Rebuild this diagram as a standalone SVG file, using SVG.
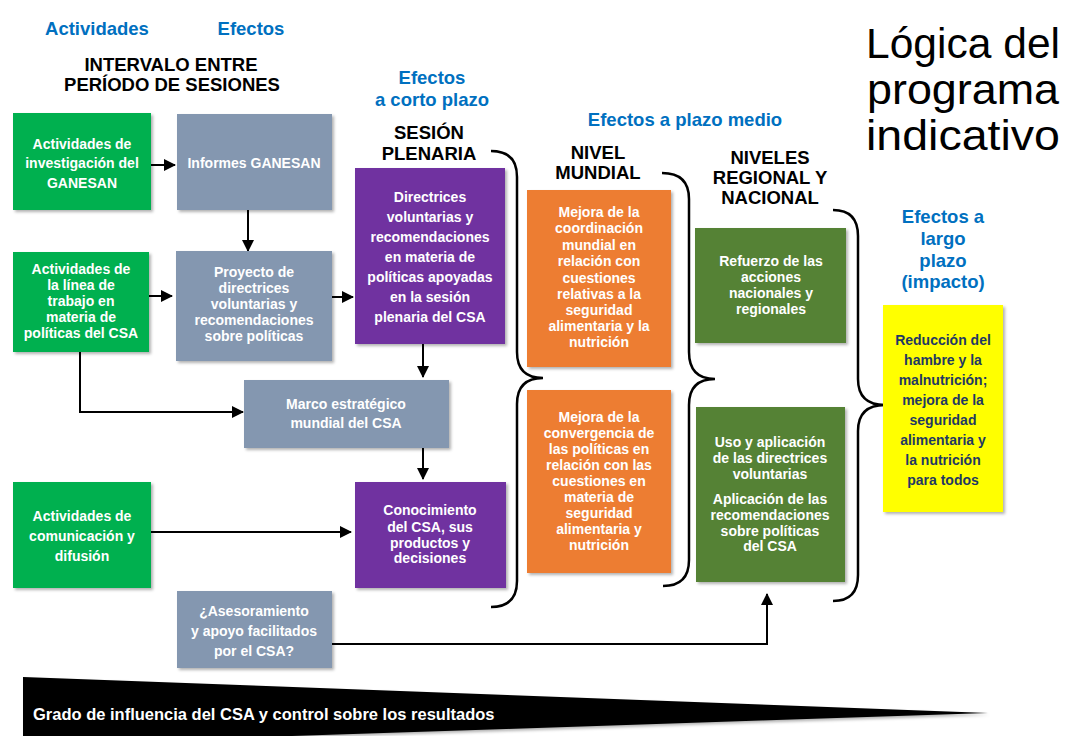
<svg xmlns="http://www.w3.org/2000/svg" width="1065" height="736" viewBox="0 0 1065 736">
  <defs>
    <filter id="shadow" x="-10%" y="-10%" width="130%" height="130%">
      <feDropShadow dx="2" dy="2" stdDeviation="1.5" flood-color="#000" flood-opacity="0.3"/>
    </filter>
    <marker id="arrow" markerUnits="userSpaceOnUse" markerWidth="12" markerHeight="12" viewBox="0 0 12 12" refX="11" refY="6" orient="auto">
      <path d="M0,0 L12,6 L0,12 Z" fill="#000"/>
    </marker>
    <style>
      .box { filter: url(#shadow); }
      .t { font-family: "Liberation Sans", Arial, sans-serif; font-weight: bold; font-size: 14px; fill: #fff; text-anchor: middle; }
      .dark { fill: #1F3864; }
      .hdr { font-family: "Liberation Sans", Arial, sans-serif; font-weight: bold; font-size: 18.5px; fill: #000; text-anchor: middle; }
      .blue { fill: #0070C0; }
      .title { font-family: "Liberation Sans", Arial, sans-serif; font-size: 43px; fill: #000; }
      .conn { fill: none; stroke: #000; stroke-width: 2; }
      .brace { fill: none; stroke: #000; stroke-width: 2.5; }
      .green { fill: #00B050; }
      .grey { fill: #8497B0; }
      .purple { fill: #7030A0; }
      .orange { fill: #ED7D31; }
      .dgreen { fill: #548235; }
      .yellow { fill: #FFFF00; }
    </style>
  </defs>

  <rect width="1065" height="736" fill="#fff"/>

  <!-- title -->
  <g id="title">
    <text class="title" x="866" y="58" textLength="194" lengthAdjust="spacingAndGlyphs">Lógica del</text>
    <text class="title" x="867" y="104" textLength="192" lengthAdjust="spacingAndGlyphs">programa</text>
    <text class="title" x="866" y="150" textLength="194" lengthAdjust="spacingAndGlyphs">indicativo</text>
  </g>

  <!-- column headings -->
  <g id="headings">
    <text class="hdr blue" x="97" y="35">Actividades</text>
    <text class="hdr blue" x="251" y="35">Efectos</text>
    <text class="hdr" x="171" y="71">INTERVALO ENTRE</text>
    <text class="hdr" x="172" y="91">PERÍODO DE SESIONES</text>
    <text class="hdr blue" x="432" y="84">Efectos</text>
    <text class="hdr blue" x="432" y="106">a corto plazo</text>
    <text class="hdr" x="429" y="139">SESIÓN</text>
    <text class="hdr" x="429" y="160">PLENARIA</text>
    <text class="hdr blue" x="685" y="126">Efectos a plazo medio</text>
    <text class="hdr" x="598" y="159">NIVEL</text>
    <text class="hdr" x="598" y="179">MUNDIAL</text>
    <text class="hdr" x="770" y="164">NIVELES</text>
    <text class="hdr" x="770" y="184">REGIONAL Y</text>
    <text class="hdr" x="770" y="204">NACIONAL</text>
    <text class="hdr blue" x="943" y="223">Efectos a</text>
    <text class="hdr blue" x="943" y="245">largo</text>
    <text class="hdr blue" x="943" y="267">plazo</text>
    <text class="hdr blue" x="943" y="288">(impacto)</text>
  </g>

  <!-- connectors -->
  <g id="connectors">
    <path class="conn" d="M151,165 H175" marker-end="url(#arrow)"/>
    <path class="conn" d="M248,210 V251" marker-end="url(#arrow)"/>
    <path class="conn" d="M149,296 H172" marker-end="url(#arrow)"/>
    <path class="conn" d="M332,297 H353" marker-end="url(#arrow)"/>
    <path class="conn" d="M423,344 V377" marker-end="url(#arrow)"/>
    <path class="conn" d="M80,352 V412 H243" marker-end="url(#arrow)"/>
    <path class="conn" d="M423,448 V479" marker-end="url(#arrow)"/>
    <path class="conn" d="M151,532 H351" marker-end="url(#arrow)"/>
    <path class="conn" d="M332,644 H767 V594" marker-end="url(#arrow)"/>
    <!-- grouping braces -->
    <path class="brace" d="M491,151 Q517,151 517,177 V352 Q517,378 543,378 Q517,378 517,404 V581 Q517,607 491,607"/>
    <path class="brace" d="M662,173 Q689,173 689,199 V352 Q689,379 715,379 Q689,379 689,405 V560 Q689,586 663,586"/>
    <path class="brace" d="M833,210 Q858,210 858,236 V379 Q858,405 885,405 Q858,405 858,431 V575 Q858,601 833,601"/>
  </g>

  <!-- activities -->
  <g id="act-ganesan">
    <rect class="box green" x="13" y="113" width="138" height="97"/>
    <text class="t"><tspan x="82" y="149">Actividades de</tspan><tspan x="82" y="168">investigación del</tspan><tspan x="82" y="188">GANESAN</tspan></text>
  </g>
  <g id="act-politicas">
    <rect class="box green" x="13" y="252" width="136" height="100"/>
    <text class="t"><tspan x="81" y="274">Actividades de</tspan><tspan x="81" y="290">la línea de</tspan><tspan x="81" y="306">trabajo en</tspan><tspan x="81" y="322">materia de</tspan><tspan x="81" y="338">políticas del CSA</tspan></text>
  </g>
  <g id="act-comunicacion">
    <rect class="box green" x="13" y="482" width="138" height="106"/>
    <text class="t"><tspan x="82" y="521">Actividades de</tspan><tspan x="82" y="541">comunicación y</tspan><tspan x="82" y="561">difusión</tspan></text>
  </g>

  <!-- intersessional outputs -->
  <g id="informes">
    <rect class="box grey" x="177" y="114" width="155" height="96"/>
    <text class="t" x="254" y="168">Informes GANESAN</text>
  </g>
  <g id="proyecto">
    <rect class="box grey" x="176" y="251" width="156" height="110"/>
    <text class="t"><tspan x="254" y="277">Proyecto de</tspan><tspan x="254" y="293">directrices</tspan><tspan x="254" y="309">voluntarias y</tspan><tspan x="254" y="325">recomendaciones</tspan><tspan x="254" y="341">sobre políticas</tspan></text>
  </g>
  <g id="marco">
    <rect class="box grey" x="244" y="380" width="205" height="68"/>
    <text class="t"><tspan x="346" y="409">Marco estratégico</tspan><tspan x="346" y="428">mundial del CSA</tspan></text>
  </g>
  <g id="asesoramiento">
    <rect class="box grey" x="177" y="591" width="155" height="77"/>
    <text class="t"><tspan x="254" y="616">¿Asesoramiento</tspan><tspan x="254" y="636">y apoyo facilitados</tspan><tspan x="254" y="656">por el CSA?</tspan></text>
  </g>

  <!-- plenary session outputs -->
  <g id="directrices">
    <rect class="box purple" x="355" y="168" width="150" height="176"/>
    <text class="t"><tspan x="430" y="202">Directrices</tspan><tspan x="430" y="222">voluntarias y</tspan><tspan x="430" y="242">recomendaciones</tspan><tspan x="430" y="262">en materia de</tspan><tspan x="430" y="282">políticas apoyadas</tspan><tspan x="430" y="302">en la sesión</tspan><tspan x="430" y="322">plenaria del CSA</tspan></text>
  </g>
  <g id="conocimiento">
    <rect class="box purple" x="355" y="482" width="151" height="106"/>
    <text class="t"><tspan x="430" y="515">Conocimiento</tspan><tspan x="430" y="532">del CSA, sus</tspan><tspan x="430" y="548">productos y</tspan><tspan x="430" y="563">decisiones</tspan></text>
  </g>

  <!-- global level -->
  <g id="coordinacion">
    <rect class="box orange" x="527" y="190" width="144" height="177"/>
    <text class="t"><tspan x="599" y="217">Mejora de la</tspan><tspan x="599" y="233">coordinación</tspan><tspan x="599" y="250">mundial en</tspan><tspan x="599" y="266">relación con</tspan><tspan x="599" y="283">cuestiones</tspan><tspan x="599" y="299">relativas a la</tspan><tspan x="599" y="315">seguridad</tspan><tspan x="599" y="331">alimentaria y la</tspan><tspan x="599" y="347">nutrición</tspan></text>
  </g>
  <g id="convergencia">
    <rect class="box orange" x="527" y="390" width="144" height="183"/>
    <text class="t"><tspan x="599" y="422">Mejora de la</tspan><tspan x="599" y="438">convergencia de</tspan><tspan x="599" y="454">las políticas en</tspan><tspan x="599" y="470">relación con las</tspan><tspan x="599" y="486">cuestiones en</tspan><tspan x="599" y="502">materia de</tspan><tspan x="599" y="518">seguridad</tspan><tspan x="599" y="534">alimentaria y</tspan><tspan x="599" y="550">nutrición</tspan></text>
  </g>

  <!-- regional and national level -->
  <g id="refuerzo">
    <rect class="box dgreen" x="695" y="228" width="151" height="115"/>
    <text class="t"><tspan x="771" y="266">Refuerzo de las</tspan><tspan x="771" y="282">acciones</tspan><tspan x="771" y="298">nacionales y</tspan><tspan x="771" y="314">regionales</tspan></text>
  </g>
  <g id="uso">
    <rect class="box dgreen" x="696" y="407" width="149" height="175"/>
    <text class="t"><tspan x="770" y="447">Uso y aplicación</tspan><tspan x="770" y="463">de las directrices</tspan><tspan x="770" y="479">voluntarias</tspan><tspan x="770" y="504">Aplicación de las</tspan><tspan x="770" y="520">recomendaciones</tspan><tspan x="770" y="536">sobre políticas</tspan><tspan x="770" y="551">del CSA</tspan></text>
  </g>

  <!-- long-term impact -->
  <g id="impacto">
    <rect class="box yellow" x="883" y="305" width="120" height="207"/>
    <text class="t dark"><tspan x="943" y="345">Reducción del</tspan><tspan x="943" y="365">hambre y la</tspan><tspan x="943" y="385">malnutrición;</tspan><tspan x="943" y="405">mejora de la</tspan><tspan x="943" y="425">seguridad</tspan><tspan x="943" y="445">alimentaria y</tspan><tspan x="943" y="465">la nutrición</tspan><tspan x="943" y="485">para todos</tspan></text>
  </g>

  <!-- influence wedge -->
  <g id="influencia">
    <polygon points="23,677 988,713 23,745" fill="#000" filter="url(#shadow)"/>
    <text class="t" x="33" y="720" style="text-anchor:start;font-size:16.5px">Grado de influencia del CSA y control sobre los resultados</text>
  </g>
</svg>
